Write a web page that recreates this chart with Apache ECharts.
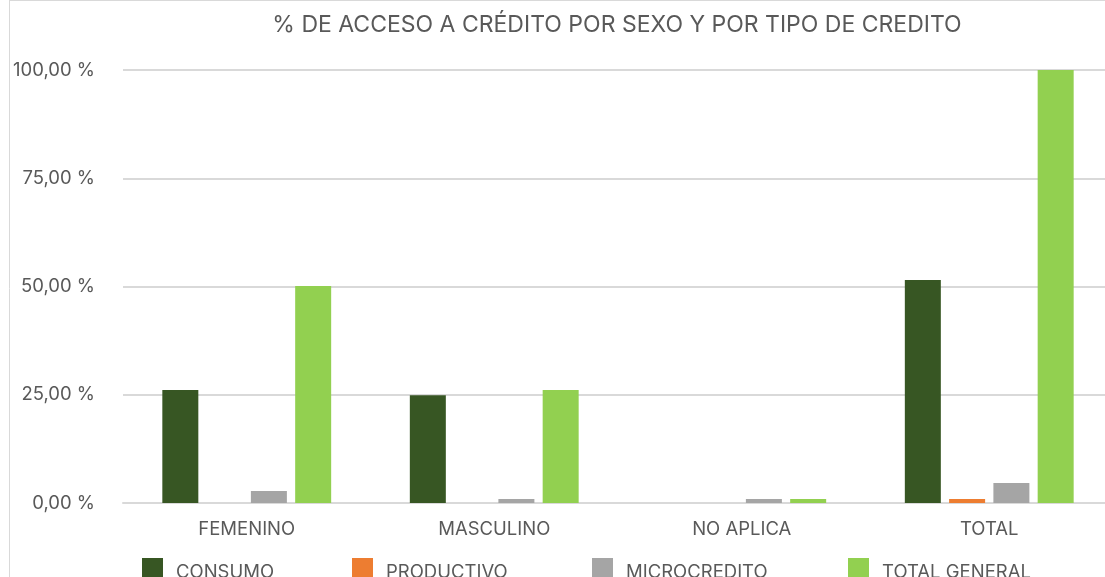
<!DOCTYPE html>
<html><head><meta charset="utf-8">
<script src="https://cdn.jsdelivr.net/npm/echarts@6/dist/echarts.min.js"></script>
<style>html,body{margin:0;padding:0;background:#fff;overflow:hidden}#c{width:1113px;height:577px}</style>
</head><body><div id="c"></div>
<script>
const categories = ['FEMENINO', 'MASCULINO', 'NO APLICA', 'TOTAL'];
const consumo = [26.1, 24.9, 0, 51.5];
const productivo = [0, 0, 0, 0.9];
const microcredito = [2.8, 0.9, 0.9, 4.6];
const totalGeneral = [50.1, 26.1, 0.9, 100];
const seriesNames = ['CONSUMO', 'PRODUCTIVO', 'MICROCREDITO', 'TOTAL GENERAL'];
const yTicks = { min: 0, max: 100, interval: 25 };
const titleText = '% DE ACCESO A CRÉDITO POR SEXO Y POR TIPO DE CREDITO';

const FONT = 'Inter';
const colors = ['#375623', '#ED7D31', '#A5A5A5', '#92D050'];
const legendLeft = [142, 352, 592, 848];
const chart = echarts.init(document.getElementById('c'));
const seriesData = [consumo, productivo, microcredito, totalGeneral];
chart.setOption({
  animation: false,
  title: { text: titleText, left: 617, textAlign: 'center', top: 14, padding: 0,
    textStyle: { fontFamily: FONT, fontSize: 23, fontWeight: 'normal', color: '#595959' } },
  legend: seriesNames.map((n, i) => ({
    data: [n], top: 558, left: legendLeft[i], padding: 0, itemWidth: 21, itemHeight: 21, icon: 'rect',
    formatter: name => '{t|' + name + '}',
    textStyle: { fontFamily: FONT, fontSize: 18.5, color: '#595959', padding: [0, 0, 0, 8],
      rich: { t: { fontFamily: FONT, fontSize: 18.5, color: '#595959', padding: [7, 0, 0, 0] } } }
  })),
  grid: { left: 123, right: 0, top: 70, bottom: 74, containLabel: false },
  xAxis: {
    type: 'category', data: categories,
    axisLine: { lineStyle: { color: '#d9d9d9', width: 2 } }, axisTick: { show: false },
    axisLabel: { fontFamily: FONT, fontSize: 18.5, color: '#595959', margin: 17 }
  },
  yAxis: {
    type: 'value', min: yTicks.min, max: yTicks.max, interval: yTicks.interval,
    axisLine: { show: false }, axisTick: { show: false },
    splitLine: { lineStyle: { color: '#d9d9d9', width: 2 } },
    axisLabel: { fontFamily: FONT, fontSize: 18.5, color: '#595959', margin: 28,
      formatter: v => v.toFixed(2).replace('.', ',') + ' %' }
  },
  series: seriesNames.map((n, i) => ({
    name: n, type: 'bar', data: seriesData[i], itemStyle: { color: colors[i] },
    barWidth: 36, barGap: '23%'
  })),
  graphic: [
    { type: 'line', shape: { x1: 9.5, y1: 0, x2: 9.5, y2: 577 }, style: { stroke: '#d9d9d9', lineWidth: 1 } },
    { type: 'line', shape: { x1: 9, y1: 0.5, x2: 1113, y2: 0.5 }, style: { stroke: '#d9d9d9', lineWidth: 1 } }
  ]
});
</script></body></html>
